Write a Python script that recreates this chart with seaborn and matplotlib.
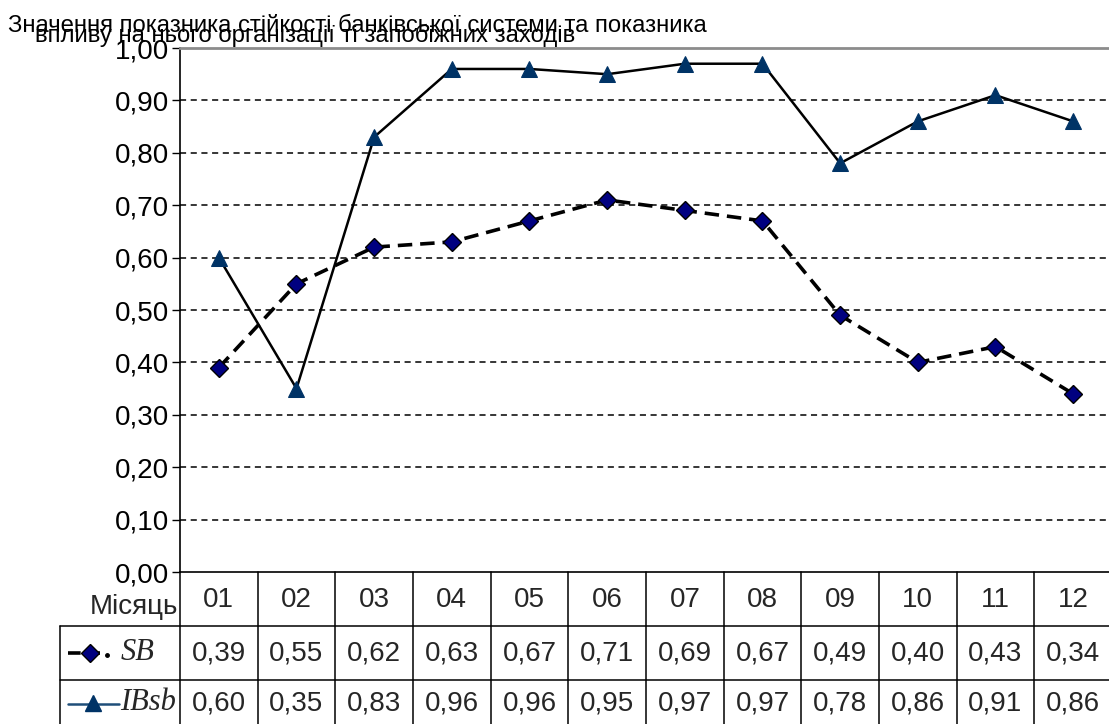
import numpy as np
import pandas as pd
import matplotlib
matplotlib.use("Agg")
import matplotlib.pyplot as plt
import seaborn as sns
from matplotlib.lines import Line2D
from matplotlib.transforms import blended_transform_factory
from matplotlib import font_manager

# ---- data ----
months = ["01", "02", "03", "04", "05", "06", "07", "08", "09", "10", "11", "12"]
sb = [0.39, 0.55, 0.62, 0.63, 0.67, 0.71, 0.69, 0.67, 0.49, 0.40, 0.43, 0.34]
ibsb = [0.60, 0.35, 0.83, 0.96, 0.96, 0.95, 0.97, 0.97, 0.78, 0.86, 0.91, 0.86]
yticks = [0.0, 0.1, 0.2, 0.3, 0.4, 0.5, 0.6, 0.7, 0.8, 0.9, 1.0]
title_line1 = "Значення показника стійкості банківської системи та показника"
title_line2 = "впливу на нього організації ті запобіжних заходів"
row_header = "Місяць"
series_names = ["SB", "IBsb"]

sns.set_theme(style="white")
names = {f.name for f in font_manager.fontManager.ttflist}
if "Liberation Sans Narrow" in names:
    plt.rcParams["font.family"] = ["Liberation Sans Narrow", "DejaVu Sans"]
    FS, TFS = 23, 20.5
else:
    plt.rcParams["font.family"] = ["Liberation Sans", "DejaVu Sans"]
    FS, TFS = 20, 17.2

W, H = 1109, 724
fig = plt.figure(figsize=(W / 100, H / 100), dpi=100)
fig.patch.set_facecolor("white")

def fx(px):
    return px / W

def fy(py):
    return 1 - py / H

ax_left, ax_right, ax_top, ax_bot = 180, 1112, 48, 572
ax = fig.add_axes([fx(ax_left), fy(ax_bot), (ax_right - ax_left) / W, (ax_bot - ax_top) / H])
ax.set_facecolor("white")

df = pd.DataFrame({"x": np.arange(len(months)), "SB": sb, "IBsb": ibsb})

SB_FACE = "#000080"
IB_FACE = "#003366"

sns.lineplot(data=df, x="x", y="IBsb", ax=ax, color="black", lw=1.8,
             marker="^", markersize=12, markerfacecolor=IB_FACE,
             markeredgecolor=IB_FACE, zorder=4)
sns.lineplot(data=df, x="x", y="SB", ax=ax, color="black", lw=2.6,
             linestyle=(0, (4, 2.2)), marker="D", markersize=9,
             markerfacecolor=SB_FACE, markeredgecolor="black",
             markeredgewidth=1.0, zorder=5)

ax.set_xlim(-0.5, len(months) - 0.5)
ax.set_ylim(0, 1.0)
for v in yticks[1:-1]:
    ax.axhline(v, color="black", lw=1.1, linestyle=(0, (4, 3)), zorder=1)

ax.set_yticks(yticks)
ax.set_yticklabels([f"{v:.2f}".replace(".", ",") for v in yticks], fontsize=FS)
ax.tick_params(axis="y", which="both", left=True, length=6, width=1, color="black",
               pad=2, labelcolor="black")
ax.set_xticks([])
ax.set_xlabel("")
ax.set_ylabel("")
for side in ["left", "bottom"]:
    ax.spines[side].set_color("black")
    ax.spines[side].set_linewidth(1.2)
ax.spines["top"].set_color("#8c8c8c")
ax.spines["top"].set_linewidth(2)
ax.spines["right"].set_visible(False)

# ---- title (two overlapping lines, as in the source) ----
fig.text(fx(8), fy(32), title_line1, fontsize=TFS, va="baseline", ha="left", color="black")
fig.text(fx(35), fy(42), title_line2, fontsize=TFS, va="baseline", ha="left", color="black")

# ---- data table ----
tr = blended_transform_factory(ax.transData, fig.transFigure)
row_y = [572, 626, 680, 724]
line_kw = dict(color="black", lw=1.1, clip_on=False)
for i in range(len(months) + 1):
    fig.add_artist(Line2D([i - 0.5, i - 0.5], [fy(row_y[0]), fy(row_y[3])], transform=tr, **line_kw))
for yy in row_y[1:3]:
    fig.add_artist(Line2D([fx(60), 1.0], [fy(yy), fy(yy)], transform=fig.transFigure, **line_kw))
fig.add_artist(Line2D([fx(60), fx(60)], [fy(row_y[1]), fy(row_y[3])], transform=fig.transFigure, **line_kw))

for i, m in enumerate(months):
    fig.text(i, fy(600), m, transform=tr, ha="center", va="center", fontsize=FS)
    fig.text(i, fy(653), f"{sb[i]:.2f}".replace(".", ","), transform=tr, ha="center", va="center", fontsize=FS)
    fig.text(i, fy(703), f"{ibsb[i]:.2f}".replace(".", ","), transform=tr, ha="center", va="center", fontsize=FS)

fig.text(fx(178), fy(607), row_header, ha="right", va="center", fontsize=FS)

# legend keys in the table
fig.add_artist(Line2D([fx(68), fx(100)], [fy(653), fy(653)], transform=fig.transFigure,
                      color="black", lw=2.6, linestyle=(0, (3.5, 2.2))))
fig.add_artist(Line2D([fx(90)], [fy(653)], transform=fig.transFigure, marker="D", markersize=9,
                      markerfacecolor=SB_FACE, markeredgecolor="black", lw=0))
fig.add_artist(Line2D([fx(107)], [fy(655)], transform=fig.transFigure, marker="o", markersize=2.5,
                      markerfacecolor="black", markeredgecolor="black", lw=0))
fig.text(fx(121), fy(653), series_names[0], ha="left", va="center", fontsize=22,
         family="Liberation Serif", style="italic")

fig.add_artist(Line2D([fx(68), fx(119)], [fy(704), fy(704)], transform=fig.transFigure,
                      color="#1f4e79", lw=1.8))
fig.add_artist(Line2D([fx(93)], [fy(703)], transform=fig.transFigure, marker="^", markersize=12,
                      markerfacecolor=IB_FACE, markeredgecolor=IB_FACE, lw=0))
fig.text(fx(120), fy(703), series_names[1], ha="left", va="center", fontsize=22,
         family="Liberation Serif", style="italic")

fig.savefig("out.png", dpi=100, facecolor="white")
